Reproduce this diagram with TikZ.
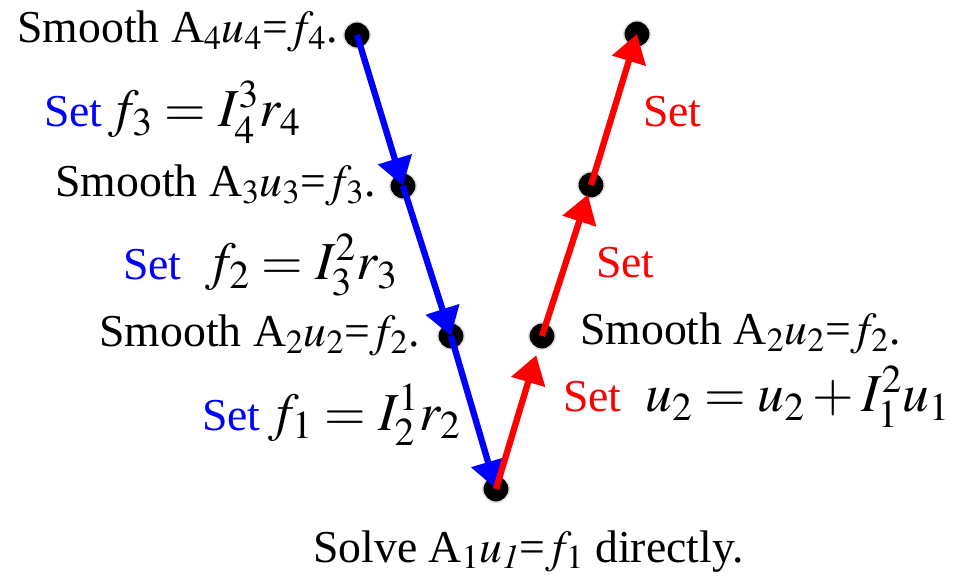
\documentclass[tikz,border=0pt]{standalone}
\usepackage{mathptmx}
\usepackage[no-math]{fontspec}
\setmainfont{Liberation Serif}
\usetikzlibrary{positioning, arrows.meta}

\begin{document}
\begin{tikzpicture}[
    x=0.025cm, y=-0.025cm,
    dot/.style={circle, fill=black, draw=black!12, line width=1pt, inner sep=0pt, minimum size=0.66cm},
    lbl/.style={inner sep=0pt, font=\fontsize{32.5}{39}\selectfont},
    eq/.style={font=\fontsize{38}{45}\selectfont},
    downarr/.style={-{Triangle[length=7mm, width=8.5mm]}, blue, line width=4.5pt},
    uparr/.style={-{Triangle[length=7mm, width=8.5mm]}, red, line width=4.5pt}
]
\useasboundingbox (0,0) rectangle (956,577);

% grid levels
\node[dot] (d4) at (357,35) {};
\node[dot] (d3) at (403,186) {};
\node[dot] (d2) at (451,336) {};
\node[dot] (d1) at (496,489) {};
\node[dot] (e2) at (542,336) {};
\node[dot] (e3) at (591,185) {};
\node[dot] (e4) at (637,34) {};

% smoothing steps
\node[lbl, anchor=base east] (s4) at (338,43) {Smooth A$_4u_4$=$f_4$.};
\node[lbl, anchor=base east] (s3) at (376,197) {Smooth A$_3u_3$=$f_3$.};
\node[lbl, anchor=base east] (s2) at (420,347) {Smooth A$_2u_2$=$f_2$.};
\node[lbl, anchor=base west] (t2) at (580,345) {Smooth A$_2u_2$=$f_2$.};
\node[lbl, anchor=base west] (sol) at (313,562) {Solve A$_1u_{\mathit{1}}$=$f_1$ directly.};

% restriction
\node[lbl, anchor=base west, blue] (r3) at (44,127) {Set};
\node[lbl, eq, anchor=base west] (q3) at (108,127) {$f_3=I_4^3r_4$};
\node[lbl, anchor=base west, blue] (r2) at (123,280) {Set};
\node[lbl, eq, anchor=base west] (q2) at (205,280) {$f_2=I_3^2r_3$};
\node[lbl, anchor=base west, blue] (r1) at (202,430) {Set};
\node[lbl, eq, anchor=base west] (q1) at (268,430) {$f_1=I_2^1r_2$};

% prolongation
\node[lbl, anchor=base west, red] (p4) at (643,127) {Set};
\node[lbl, anchor=base west, red] (p3) at (596,278) {Set};
\node[lbl, anchor=base west, red] (p2) at (563,412) {Set};
\node[lbl, eq, anchor=base west] (q0) at (645,412) {$u_2=u_2+I_1^2u_1$};

\draw[downarr] (d4.center) -- (d3.center);
\draw[downarr] (d3.center) -- (d2.center);
\draw[downarr] (d2.center) -- (d1.center);
\draw[uparr, shorten >=0.5cm] (d1.center) -- (e2.center);
\draw[uparr, shorten >=0.25cm] (e2.center) -- (e3.center);
\draw[uparr] (e3.center) -- (e4.center);

\end{tikzpicture}
\end{document}
